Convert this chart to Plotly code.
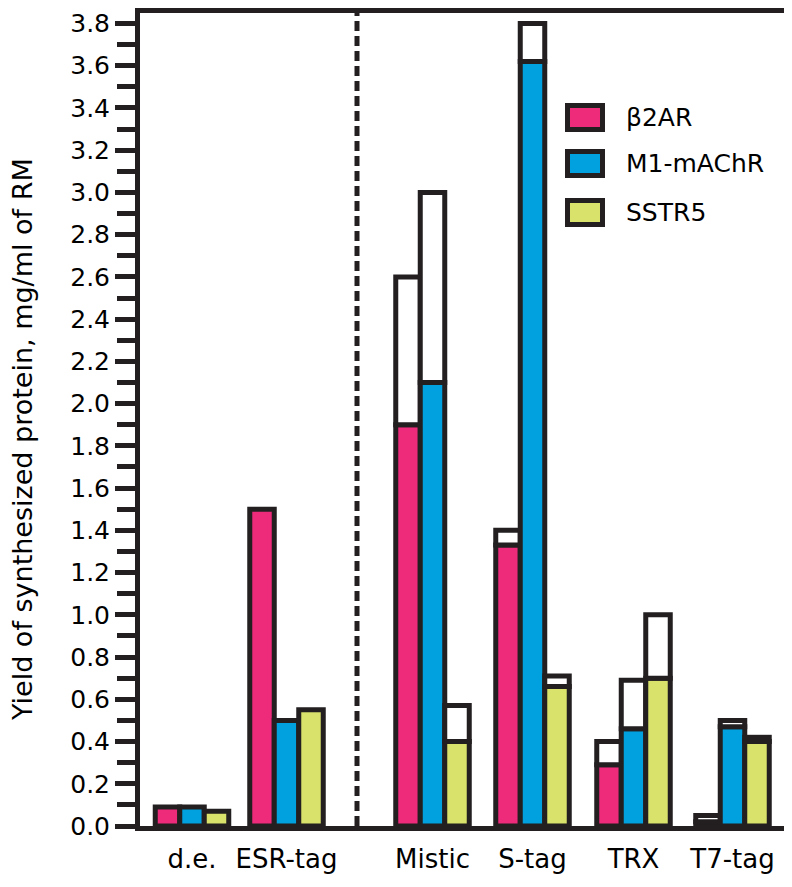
import plotly.graph_objects as go

# ---- data ----
groups = ["d.e.", "ESR-tag", "Mistic", "S-tag", "TRX", "T7-tag"]
series = ["β2AR", "M1-mAChR", "SSTR5"]
# lower (coloured) value of each bar
b2ar_low = [0.09, 1.50, 1.90, 1.33, 0.29, 0.02]
m1_low = [0.09, 0.50, 2.10, 3.62, 0.46, 0.47]
sstr5_low = [0.07, 0.55, 0.40, 0.66, 0.70, 0.40]
# upper (white, range) value of each bar
b2ar_high = [0.09, 1.50, 2.60, 1.40, 0.40, 0.05]
m1_high = [0.09, 0.50, 3.00, 3.80, 0.69, 0.50]
sstr5_high = [0.07, 0.55, 0.57, 0.71, 1.00, 0.42]
y_ticks = [0.0, 0.2, 0.4, 0.6, 0.8, 1.0, 1.2, 1.4, 1.6, 1.8, 2.0, 2.2, 2.4,
           2.6, 2.8, 3.0, 3.2, 3.4, 3.6, 3.8]

# ---- layout / style ----
group_pos = [0, 0.945, 2.405, 3.405, 4.415, 5.405]
divider_x = 1.65
bar_w = 0.245
colors = ["#EE2A7B", "#00A1DE", "#D9E26A"]
ink = "#231F20"
FONT = "DejaVu Sans"

OFF = 8  # page body margin
W, H = 792 - OFF, 887 - OFF
ML, MR, MT, MB = 132, 5, 5, 61
PW, PH = W - ML - MR, H - MT - MB
PX_PER_UNIT = 211.2


def px_x(p):
    return (p - OFF - ML) / PW


def px_y(p):
    return (H - MB - (p - OFF)) / PH


fig = go.Figure()
lows = [b2ar_low, m1_low, sstr5_low]
highs = [b2ar_high, m1_high, sstr5_high]
for i, name in enumerate(series):
    off = (i - 1) * bar_w
    xs = [g + off for g in group_pos]
    fig.add_trace(go.Bar(
        x=xs, y=lows[i], width=bar_w, name=name,
        marker=dict(color=colors[i], line=dict(color=ink, width=5)),
        showlegend=False, hoverinfo="y"))
    diffs = [(h - l) if h - l > 1e-9 else None for l, h in zip(lows[i], highs[i])]
    fig.add_trace(go.Bar(
        x=xs, y=diffs, base=lows[i], width=bar_w, name=name + " (max)",
        marker=dict(color="white", line=dict(color=ink, width=5)),
        showlegend=False, hoverinfo="y"))

# dashed divider
fig.add_shape(type="line", xref="x", yref="paper", x0=divider_x, x1=divider_x,
              y0=0, y1=1, line=dict(color=ink, width=5, dash="10px,5px"))

# custom legend
rows = [117.5, 163.5, 212.5]
for i, name in enumerate(series):
    cy = rows[i]
    fig.add_shape(type="rect", xref="paper", yref="paper",
                  x0=px_x(567.5), x1=px_x(602.5),
                  y0=px_y(cy - 12), y1=px_y(cy + 12),
                  fillcolor=colors[i], line=dict(color=ink, width=5))
    fig.add_annotation(xref="paper", yref="paper", x=px_x(624), y=px_y(cy),
                       text=name, showarrow=False, xanchor="left", yanchor="middle",
                       font=dict(family=FONT, size=25, color="black"))

# y axis title
fig.add_annotation(xref="paper", yref="paper", x=px_x(22), y=px_y(440),
                   text="Yield of synthesized protein, mg/ml of RM", textangle=-90,
                   showarrow=False, xanchor="center", yanchor="middle",
                   font=dict(family=FONT, size=27, color="black"))

fig.update_layout(
    width=W, height=H,
    margin=dict(l=ML, r=MR, t=MT, b=MB, autoexpand=False),
    barmode="overlay",
    plot_bgcolor="white", paper_bgcolor="white",
    font=dict(family=FONT, color="black"),
    showlegend=False,
)
fig.update_xaxes(
    range=[-0.52, -0.52 + PW / 100], tickvals=group_pos, ticktext=groups,
    ticks="", showgrid=False, zeroline=False,
    showline=True, mirror=True, linewidth=5, linecolor=ink,
    tickfont=dict(family=FONT, size=26), ticklabelstandoff=6,
)
fig.update_yaxes(
    range=[0, PH / PX_PER_UNIT], tickvals=y_ticks, tickformat=".1f",
    ticks="outside", ticklen=20, tickwidth=5, tickcolor=ink,
    minor=dict(dtick=0.1, tick0=0, ticks="outside", ticklen=18, tickwidth=5, tickcolor=ink),
    showgrid=False, zeroline=False,
    showline=True, mirror=True, linewidth=5, linecolor=ink,
    tickfont=dict(family=FONT, size=25), ticklabeloverflow="allow",
)

fig.write_html("out.html")
